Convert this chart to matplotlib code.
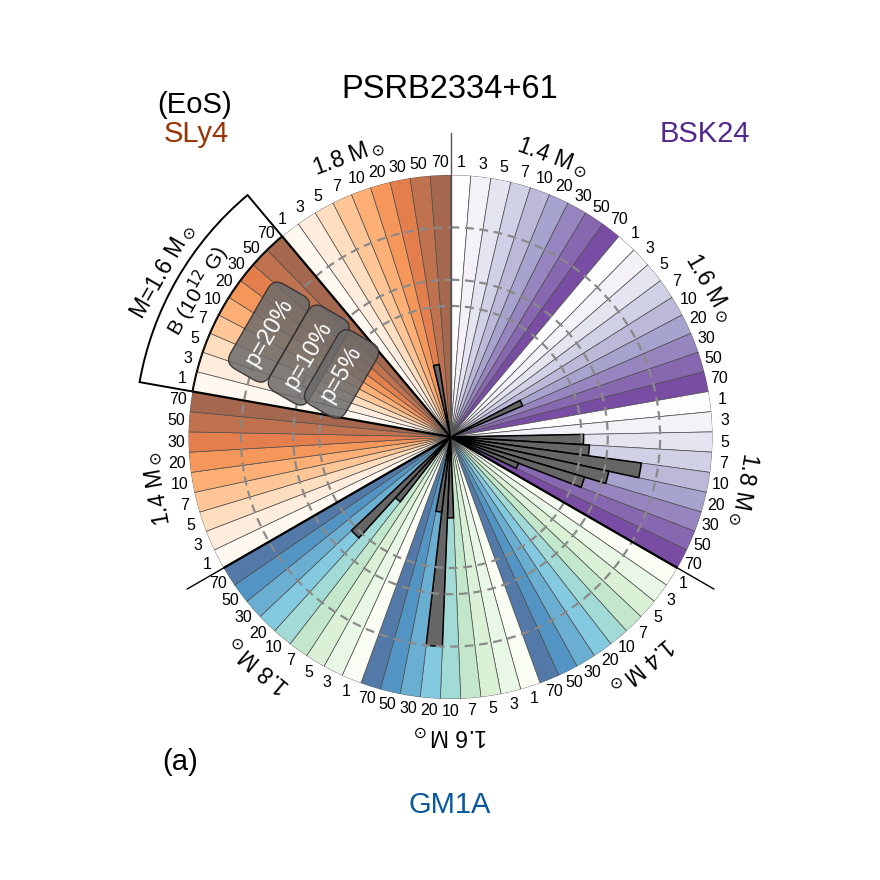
import matplotlib
matplotlib.use("Agg")
import matplotlib.pyplot as plt
import numpy as np

plt.rcParams['font.family'] = ['Liberation Sans', 'DejaVu Sans']

# order round the circle, clockwise from north
eos_names = ['BSK24', 'GM1A', 'SLy4']
eos_cmaps = ['Purples', 'GnBu', 'Oranges']
eos_colors = ['#54278f', '#08589e', '#993404']
masses = ['1.4', '1.6', '1.8']
b_labels = ['1', '3', '5', '7', '10', '20', '30', '50', '70']

# bar length in units of the outer radius, 0 = no bar (one list per EoS / mass)
bsk24_14 = [0, 0, 0, 0, 0, 0, 0, 0, 0]
bsk24_16 = [0, 0, 0, 0, 0, 0.30, 0, 0, 0]
bsk24_18 = [0, 0, 0.508, 0.531, 0.735, 0.618, 0.534, 0.278, 0]
gm1a_14 = [0, 0, 0, 0, 0, 0, 0, 0, 0]
gm1a_16 = [0, 0, 0, 0, 0.309, 0.80, 0.289, 0, 0]
gm1a_18 = [0, 0, 0, 0, 0.313, 0.52, 0, 0, 0]
sly4_14 = [0, 0, 0, 0, 0, 0, 0, 0, 0]
sly4_16 = [0, 0, 0, 0, 0, 0, 0, 0, 0]
sly4_18 = [0, 0, 0, 0, 0, 0, 0.28, 0, 0]

# significance circles
p_labels = ['p=20%', 'p=10%', 'p=5%']
p_radius = [0.8, 0.6, 0.5]
p_text_r = [0.8, 0.625, 0.48]

bars = [bsk24_14, bsk24_16, bsk24_18,
        gm1a_14, gm1a_16, gm1a_18,
        sly4_14, sly4_16, sly4_18]

n = len(eos_names) * len(masses) * len(b_labels)
width = 2 * np.pi / n
theta = (np.arange(n) + 0.5) * width

colors = []
for cm in eos_cmaps:
    cmap = plt.get_cmap(cm)
    for m in masses:
        for j in range(len(b_labels)):
            c = np.array(cmap(j / (len(b_labels) - 1))[:3])
            colors.append(0.7 * c + 0.3)

values = np.concatenate(bars)

fig = plt.figure(figsize=(8.8, 8.8), dpi=100)
ax = fig.add_axes([0.2142, 0.2057, 0.5955, 0.5955], projection='polar')
ax.set_theta_zero_location('N')
ax.set_theta_direction(-1)
ax.set_ylim(0, 1)

# coloured sectors
ax.bar(theta, np.ones(n), width=width, color=colors, edgecolor='#4d4d4d',
       linewidth=0.5, zorder=1)

# result bars
mask = values > 0
ax.bar(theta[mask], values[mask], width=width, color='#666666',
       edgecolor='black', linewidth=1.1, zorder=2)

# dashed circles as radial grid
ax.set_yticks(p_radius)
ax.set_yticklabels([])
ax.set_xticks([])
ax.yaxis.grid(True, color='#8a8a8a', linestyle=(0, (4, 2.5)), linewidth=1.6)
ax.xaxis.grid(False)
ax.spines['polar'].set_visible(False)
ax.patch.set_visible(False)
ax.set_axisbelow(False)

# separators between EoS
group = 2 * np.pi / len(eos_names)
for k in range(len(eos_names)):
    a = k * group
    ax.plot([a, a], [0, 1.16], color='black' if k else '#555555',
            lw=1.0, clip_on=False, zorder=3)
    if k:
        ax.plot([a, a], [0, 1], color='black', lw=1.6, zorder=3)

# highlighted SLy4 1.6 Msun block and its key box
mw = group / len(masses)
hl = 2 * group + 1.5 * mw
ax.bar(hl, 1.0, width=mw, fill=False, edgecolor='black', linewidth=1.6, zorder=3)
ax.bar(hl, 0.205, bottom=1.0, width=mw, facecolor='white', edgecolor='black',
       linewidth=1.4, zorder=0.5, clip_on=False)

# B labels
for i in range(n):
    ax.text(theta[i], 1.048, b_labels[i % len(b_labels)], ha='center',
            va='center', fontsize=11.5)

# mass labels
for k in range(len(eos_names)):
    for mi, m in enumerate(masses):
        a = k * group + (mi + 0.5) * mw
        rot = -np.degrees(a)
        if k == 2 and mi == 1:
            ax.text(a, 1.265, 'M=' + m + r' M$_\odot$', rotation=rot,
                    rotation_mode='anchor', ha='center', va='center',
                    fontsize=16.5)
            ax.text(a, 1.115, r'B (10$^{12}$ G)', rotation=rot,
                    rotation_mode='anchor', ha='center', va='center',
                    fontsize=15)
        else:
            ax.text(a, 1.135, m + r' M$_\odot$', rotation=rot,
                    rotation_mode='anchor', ha='center', va='center',
                    fontsize=16.5)

# p labels on the circles
for lab, r in zip(p_labels, p_text_r):
    ax.text(hl, r, lab, rotation=-np.degrees(hl), rotation_mode='anchor',
            ha='center', va='center', color='white', fontsize=17, zorder=6,
            bbox=dict(boxstyle='round,pad=0.5', facecolor='#6b6b6b',
                      edgecolor='#2b2b2b', alpha=0.85, linewidth=1.0))

# headings
fig.text(450 / 880, 1 - 98 / 880, 'PSRB2334+61', ha='center', va='baseline',
         fontsize=23.5)
fig.text(195 / 880, 1 - 113 / 880, '(EoS)', ha='center', va='baseline',
         fontsize=21)
fig.text(196 / 880, 1 - 142 / 880, eos_names[2], ha='center', va='baseline',
         fontsize=21, color=eos_colors[2])
fig.text(705 / 880, 1 - 142 / 880, eos_names[0], ha='center', va='baseline',
         fontsize=21, color=eos_colors[0])
fig.text(450 / 880, 1 - 813 / 880, eos_names[1], ha='center', va='baseline',
         fontsize=21, color=eos_colors[1])
fig.text(180 / 880, 1 - 770 / 880, '(a)', ha='center', va='baseline',
         fontsize=21)

fig.savefig('out.png', dpi=100)
